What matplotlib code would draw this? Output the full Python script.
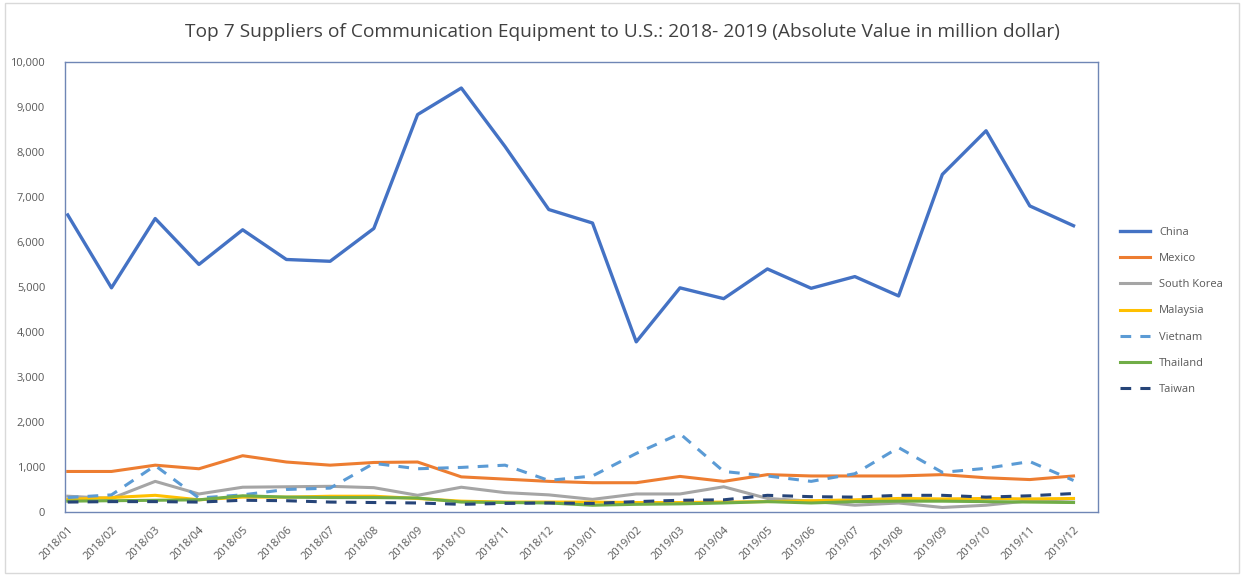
import numpy as np
import matplotlib.pyplot as plt
from matplotlib.patches import Rectangle

months = ['2018/01', '2018/02', '2018/03', '2018/04', '2018/05', '2018/06',
          '2018/07', '2018/08', '2018/09', '2018/10', '2018/11', '2018/12',
          '2019/01', '2019/02', '2019/03', '2019/04', '2019/05', '2019/06',
          '2019/07', '2019/08', '2019/09', '2019/10', '2019/11', '2019/12']

china = [6600, 4980, 6520, 5500, 6270, 5610, 5570, 6300, 8830, 9420, 8120, 6720,
         6420, 3780, 4980, 4740, 5400, 4970, 5230, 4800, 7500, 8470, 6800, 6360]
mexico = [900, 900, 1040, 960, 1250, 1110, 1040, 1100, 1110, 780, 730, 680,
          650, 650, 790, 680, 830, 800, 800, 800, 830, 760, 720, 800]
south_korea = [350, 300, 680, 400, 550, 560, 570, 540, 370, 550, 430, 380,
               280, 400, 400, 560, 300, 240, 150, 200, 100, 150, 250, 220]
malaysia = [280, 320, 370, 270, 330, 330, 350, 350, 300, 240, 220, 220,
            220, 210, 210, 220, 230, 250, 270, 300, 290, 300, 290, 300]
vietnam = [320, 380, 1030, 310, 380, 500, 530, 1080, 960, 990, 1040, 700,
           800, 1300, 1740, 900, 800, 680, 850, 1430, 880, 970, 1120, 700]
thailand = [240, 250, 260, 270, 360, 330, 320, 320, 310, 220, 210, 200,
            150, 170, 180, 200, 230, 200, 230, 240, 240, 230, 220, 210]
taiwan = [220, 230, 230, 220, 260, 250, 220, 210, 200, 170, 190, 200,
          190, 230, 260, 270, 370, 340, 330, 370, 370, 330, 360, 410]

plt.rcParams['font.family'] = ['Open Sans', 'DejaVu Sans']

fig = plt.figure(figsize=(12.44, 5.77), dpi=100)
ax = fig.add_axes([0.052, 0.1127, 0.831, 0.78])

x = np.arange(len(months))
lw = 2.2
ax.plot(x, china, color='#4472C4', lw=2.4, label='China')
ax.plot(x, mexico, color='#ED7D31', lw=lw, label='Mexico')
ax.plot(x, south_korea, color='#A5A5A5', lw=lw, label='South Korea')
ax.plot(x, malaysia, color='#FFC000', lw=lw, label='Malaysia')
ax.plot(x, vietnam, color='#5B9BD5', lw=lw, ls=(0, (3.5, 3)), label='Vietnam')
ax.plot(x, thailand, color='#70AD47', lw=lw, label='Thailand')
ax.plot(x, taiwan, color='#264478', lw=lw, ls=(0, (3.5, 3)), label='Taiwan')

ax.set_xlim(-0.07, 23.57)
ax.set_ylim(0, 10000)
ax.set_yticks(np.arange(0, 10001, 1000))
ax.yaxis.set_major_formatter(plt.FuncFormatter(lambda v, p: f'{int(v):,}'))
ax.set_xticks(x)
ax.set_xticklabels(months, rotation=45, ha='right', rotation_mode='anchor')
ax.tick_params(length=0, labelsize=8, colors='#595959')
ax.tick_params(axis='y', pad=14)
ax.tick_params(axis='x', pad=9)
for s in ax.spines.values():
    s.set_color('#6F86B5')
    s.set_linewidth(1.0)

ax.legend(loc='center left', bbox_to_anchor=(0.9006, 1 - 311 / 577),
          bbox_transform=fig.transFigure, frameon=False,
          fontsize=8, labelcolor='#595959', handlelength=2.7,
          labelspacing=1.37, borderaxespad=0.0, borderpad=0.0)

fig.text(0.5, 0.944, 'Top 7 Suppliers of Communication Equipment to U.S.: 2018- 2019 (Absolute Value in million dollar)',
         ha='center', va='center', fontsize=13.8, color='#404040')

fig.patches.append(Rectangle((0.004, 0.007), 0.992, 0.988, transform=fig.transFigure,
                             fill=False, edgecolor='#D9D9D9', lw=1))

fig.savefig('out.png', dpi=100)
